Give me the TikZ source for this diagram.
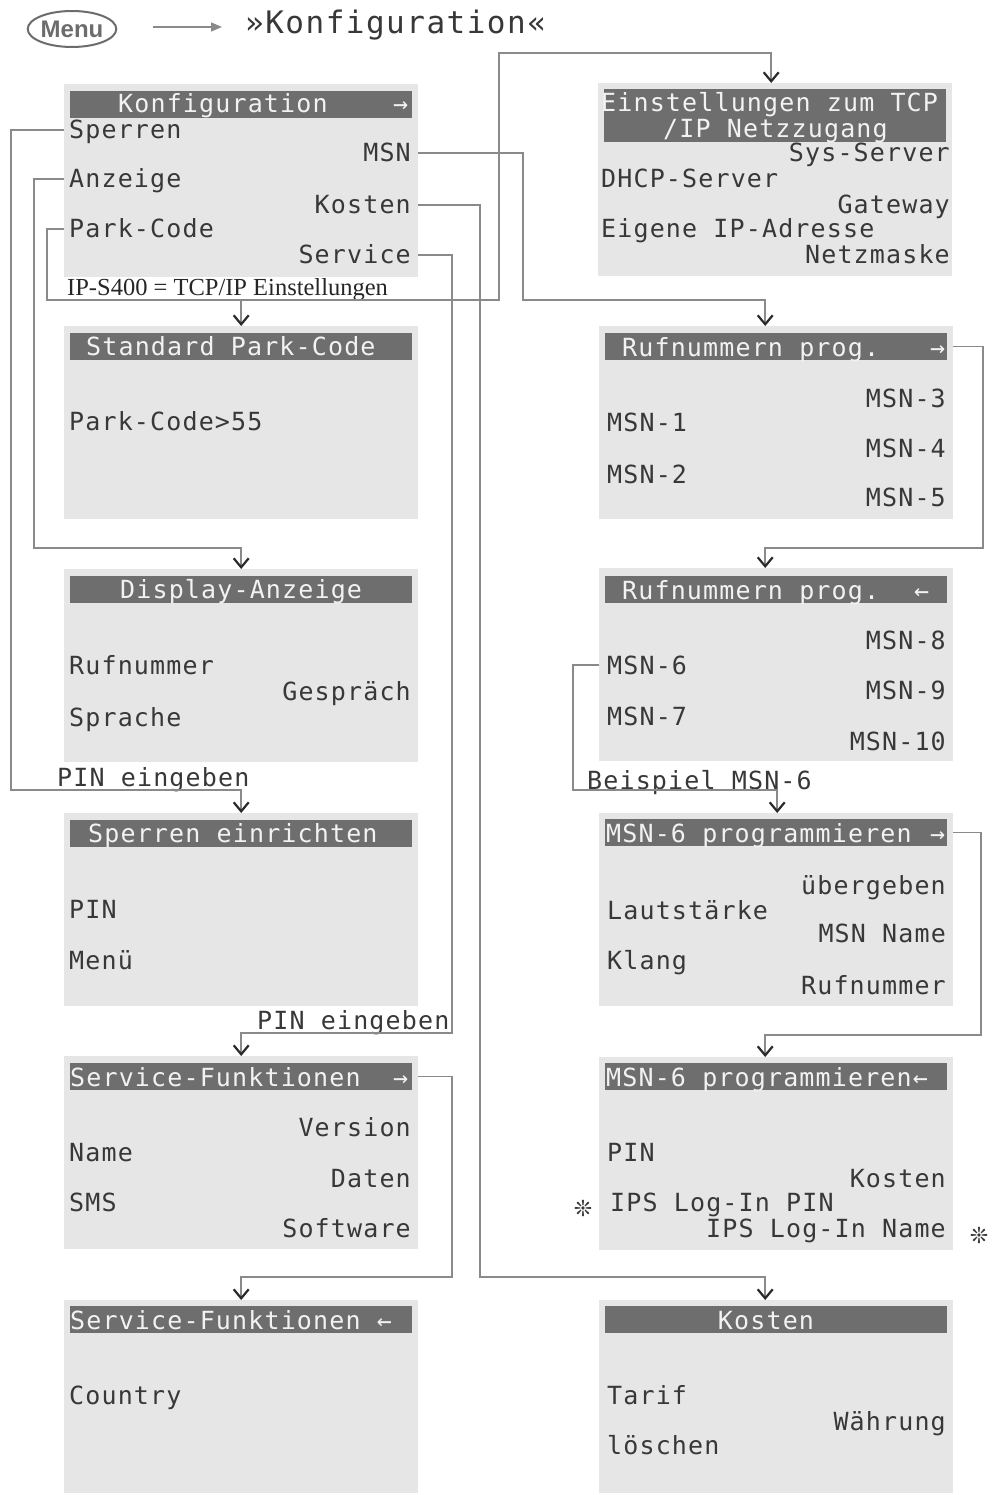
\documentclass[tikz,border=0pt]{standalone}
\usepackage{fontspec}
\usetikzlibrary{arrows.meta,shapes.geometric,calc}
\newfontfamily\lcd[LetterSpace=4.6]{DejaVu Sans Mono}
\newfontfamily\lcdbig[LetterSpace=4.8]{DejaVu Sans Mono}
\newfontfamily\serifnt{Liberation Serif}
\newfontfamily\sansnt{Liberation Sans}
\newfontfamily\symnt{DejaVu Sans}
\definecolor{panelc}{HTML}{E6E6E6}
\definecolor{hbarc}{HTML}{6E6E6E}
\definecolor{htextc}{HTML}{F2F2F2}
\definecolor{itextc}{HTML}{383838}
\definecolor{linec}{HTML}{8A8A8A}
\definecolor{menuc}{HTML}{6C6C6C}
\definecolor{tipc}{HTML}{2A2A2A}
\tikzset{
  panelbox/.style={fill=panelc, draw=none, inner sep=0pt, minimum width=354pt, minimum height=193pt, anchor=north west},
  hbarbox/.style={fill=hbarc, draw=none, inner sep=0pt, minimum width=342pt, minimum height=27pt, anchor=north west},
  lcdtext/.style={inner sep=0pt, text height=18pt, text depth=0pt, font=\lcd\fontsize{25}{25}\selectfont},
  htxt/.style={lcdtext, text=htextc, anchor=west},
  hctr/.style={lcdtext, text=htextc, anchor=center},
  itemL/.style={lcdtext, text=itextc, anchor=west},
  itemR/.style={lcdtext, text=itextc, anchor=east},
  conn/.style={draw=linec, line width=1.5pt},
  arr/.style={conn, -{Straight Barb[length=9pt,width=15pt,line width=2.2pt,color=tipc]}},
  starmark/.style={inner sep=0pt, text=itextc, font=\symnt\fontsize{22}{22}\selectfont},
}
\begin{document}
\begin{tikzpicture}[x=1pt,y=-1pt]
\useasboundingbox (0,0) rectangle (1001,1495);

% ---------- title row ----------
\node[ellipse, draw=menuc, line width=2pt, minimum width=88pt, minimum height=36pt, inner sep=0pt,
      text=menuc, font=\sansnt\bfseries\fontsize{24}{24}\selectfont] (menu) at (72,29) {Menu};
\node[inner sep=0pt, anchor=west, text=itextc, text height=22pt, text depth=0pt,
      font=\lcdbig\fontsize{31}{31}\selectfont] (title) at (245,23) {»Konfiguration«};
\draw[draw=linec, line width=1.5pt, -{Triangle[length=11pt,width=9pt,fill=linec]}]
  ($(menu.east)+(36,-2)$) -- ($(title.west)+(-23,4)$);

% ---------- left column ----------
\node[panelbox] (L1) at (64,84) {};
\node[hbarbox] (L1h) at (70,91) {};
\node[htxt] (L1t) at (118,104) {Konfiguration};
\node[htxt] (L1a) at (393,104) {→};
\node[itemL] (sperren) at (69,130) {Sperren};
\node[itemR] (msn) at (411,153) {MSN};
\node[itemL] (anzeige) at (69,179) {Anzeige};
\node[itemR] (kosten) at (411,205) {Kosten};
\node[itemL] (park) at (69,229) {Park-Code};
\node[itemR] (service) at (411,255) {Service};
\node[inner sep=0pt, anchor=base west, text=black!85, font=\serifnt\fontsize{24.5}{24.5}\selectfont] (ipnote) at (67,295) {IP-S400 = TCP/IP Einstellungen};

\node[panelbox] (L2) at (64,326) {};
\node[hbarbox] (L2h) at (70,333) {};
\node[htxt] (L2t) at (86,346) {Standard Park-Code};
\node[itemL] (pc55) at (69,421) {Park-Code>55};

\node[panelbox] (L3) at (64,569) {};
\node[hbarbox] (L3h) at (70,576) {};
\node[htxt] (L3t) at (120,589) {Display-Anzeige};
\node[itemL] (rufnr) at (69,665) {Rufnummer};
\node[itemR] (gespr) at (411,691) {Gespräch};
\node[itemL] (sprache) at (69,717) {Sprache};

\node[itemL] (pin1) at (57,777) {PIN eingeben};

\node[panelbox] (L4) at (64,813) {};
\node[hbarbox] (L4h) at (70,820) {};
\node[htxt] (L4t) at (88,833) {Sperren einrichten};
\node[itemL] (pinA) at (69,909) {PIN};
\node[itemL] (menue) at (69,960) {Menü};

\node[itemL] (pin2) at (257,1020) {PIN eingeben};

\node[panelbox] (L5) at (64,1056) {};
\node[hbarbox] (L5h) at (70,1063) {};
\node[htxt] (L5t) at (70,1077) {Service-Funktionen};
\node[htxt] (L5a) at (393,1077) {→};
\node[itemR] (version) at (411,1127) {Version};
\node[itemL] (name) at (69,1152) {Name};
\node[itemR] (daten) at (411,1178) {Daten};
\node[itemL] (sms) at (69,1202) {SMS};
\node[itemR] (software) at (411,1228) {Software};

\node[panelbox] (L6) at (64,1300) {};
\node[hbarbox] (L6h) at (70,1306) {};
\node[htxt] (L6t) at (70,1320) {Service-Funktionen ←};
\node[itemL] (country) at (69,1395) {Country};

% ---------- right column ----------
\node[panelbox] (R1) at (598,83) {};
\node[hbarbox, minimum height=53pt] (R1h) at (604,89) {};
\node[htxt] (R1t) at (601,103) {Einstellungen zum TCP};
\node[htxt] (R1u) at (663,129) {/IP Netzzugang};
\node[itemR] (sysserv) at (950,153) {Sys-Server};
\node[itemL] (dhcp) at (601,179) {DHCP-Server};
\node[itemR] (gateway) at (950,205) {Gateway};
\node[itemL] (eigip) at (601,229) {Eigene IP-Adresse};
\node[itemR] (netzm) at (950,255) {Netzmaske};

\node[panelbox] (R2) at (599,326) {};
\node[hbarbox] (R2h) at (605,333) {};
\node[htxt] (R2t) at (622,347) {Rufnummern prog.};
\node[htxt] (R2a) at (930,347) {→};
\node[itemR] (msn3) at (946,398) {MSN-3};
\node[itemL] (msn1) at (607,422) {MSN-1};
\node[itemR] (msn4) at (946,448) {MSN-4};
\node[itemL] (msn2) at (607,474) {MSN-2};
\node[itemR] (msn5) at (946,497) {MSN-5};

\node[panelbox] (R3) at (599,568) {};
\node[hbarbox] (R3h) at (605,576) {};
\node[htxt] (R3t) at (622,590) {Rufnummern prog.};
\node[htxt] (R3a) at (914,590) {←};
\node[itemR] (msn8) at (946,640) {MSN-8};
\node[itemL] (msn6) at (607,665) {MSN-6};
\node[itemR] (msn9) at (946,690) {MSN-9};
\node[itemL] (msn7) at (607,716) {MSN-7};
\node[itemR] (msn10) at (946,741) {MSN-10};

\node[itemL] (beisp) at (587,780) {Beispiel MSN-6};

\node[panelbox] (R4) at (599,813) {};
\node[hbarbox] (R4h) at (605,819) {};
\node[htxt] (R4t) at (606,833) {MSN-6 programmieren};
\node[htxt] (R4a) at (930,833) {→};
\node[itemR] (uebergeben) at (946,885) {übergeben};
\node[itemL] (lautst) at (607,910) {Lautstärke};
\node[itemR] (msnname) at (946,933) {MSN Name};
\node[itemL] (klang) at (607,960) {Klang};
\node[itemR] (rufnummer) at (946,985) {Rufnummer};

\node[panelbox] (R5) at (599,1057) {};
\node[hbarbox] (R5h) at (605,1063) {};
\node[htxt] (R5t) at (606,1077) {MSN-6 programmieren←};
\node[itemL] (pinB) at (607,1152) {PIN};
\node[itemR] (kostenB) at (946,1178) {Kosten};
\node[itemL] (ipspin) at (610,1202) {IPS Log-In PIN};
\node[itemR] (ipsname) at (946,1228) {IPS Log-In Name};
\node[starmark] (star1) at (583,1208) {❊};
\node[starmark] (star2) at (979,1235) {❊};

\node[panelbox] (R6) at (599,1300) {};
\node[hbarbox] (R6h) at (605,1306) {};
\node[hctr] (R6t) at (766,1320) {Kosten};
\node[itemL] (tarif) at (607,1395) {Tarif};
\node[itemR] (waehrung) at (946,1421) {Währung};
\node[itemL] (loeschen) at (607,1445) {löschen};

% ---------- connectors ----------
\coordinate (ipjoin) at (47,300);
\draw[arr] (L1.west |- sperren.west) -| (11,790) -| (L4.north);
\draw[arr] (L1.west |- anzeige.west) -| (34,548) -| (L3.north);
\draw[arr] (L1.west |- park.west) -| (ipjoin) -| (499,53) -| ($(R1.north)+(-4,0)$);
\draw[arr] (L2.north |- ipjoin) -- (L2.north);
\draw[arr] (L1.east |- msn.east) -| (523,300) -| ($(R2.north)+(-11,0)$);
\draw[arr] (L1.east |- kosten.east) -| (480,1277) -| ($(R6.north)+(-11,0)$);
\draw[arr] (L1.east |- service.east) -| (452,1033) -| (L5.north);
\draw[arr] (L5.east |- L5h.east) -| (452,1277) -| (L6.north);
\draw[arr] (R2.east |- R2h.east) -| (983,548) -| ($(R3.north)+(-11,0)$);
\draw[arr] (R3.west |- msn6.west) -| (573,790) -| ($(R4.north)+(1,0)$);
\draw[arr] (R4.east |- R4h.east) -| (981,1035) -| ($(R5.north)+(-11,0)$);
\end{tikzpicture}
\end{document}
